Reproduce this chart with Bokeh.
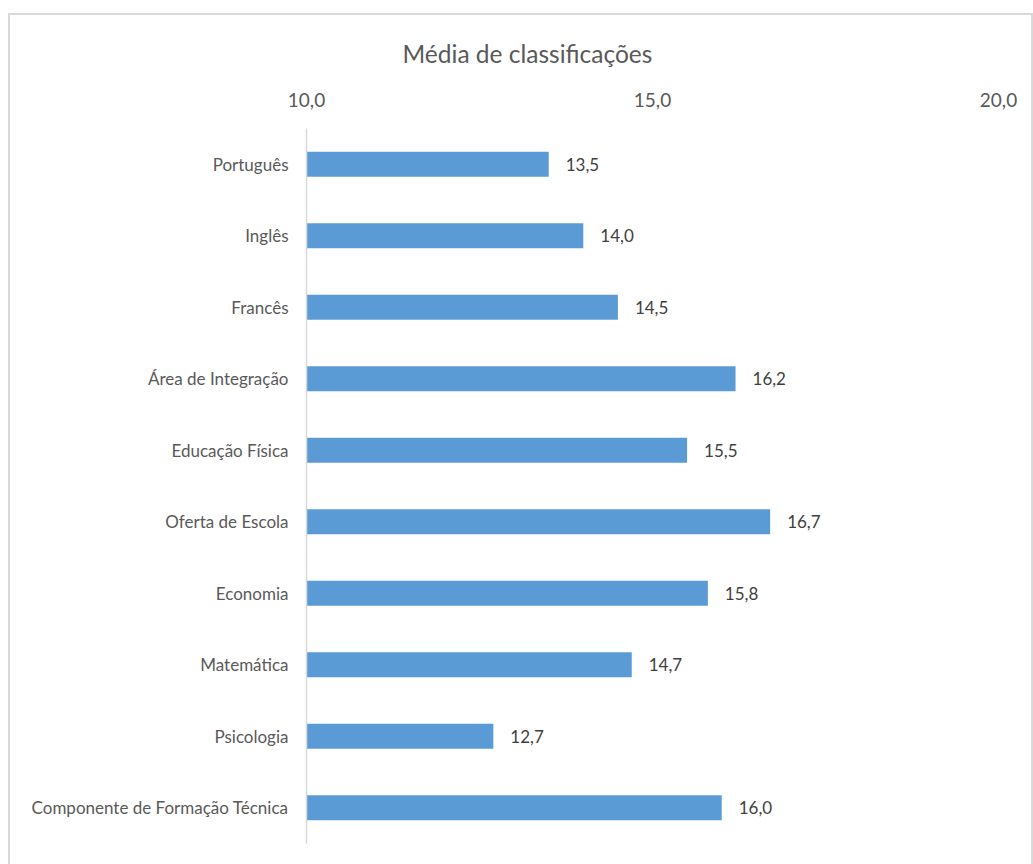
from bokeh.plotting import figure
from bokeh.models import (FactorRange, Range1d, FixedTicker, CustomJSTickFormatter,
                          ColumnDataSource)
from bokeh.core.properties import value
from bokeh.embed import file_html
from bokeh.resources import INLINE

categories = ["Português", "Inglês", "Francês", "Área de Integração", "Educação Física",
              "Oferta de Escola", "Economia", "Matemática", "Psicologia",
              "Componente de Formação Técnica"]
averages = [13.5, 14.0, 14.5, 16.2, 15.5, 16.7, 15.8, 14.7, 12.7, 16.0]
x_ticks = [10, 15, 20]
title_text = "Média de classificações"

FONT = "Lato"

labels = [f"{v:.1f}".replace(".", ",") for v in averages]
src = ColumnDataSource(dict(cat=categories, val=averages, lab=labels,
                            base=[x_ticks[0]] * len(categories)))

p = figure(width=1021, height=861, output_backend="svg", toolbar_location=None,
           y_range=FactorRange(factors=list(reversed(categories))),
           x_range=Range1d(10, 20), x_axis_location="above",
           min_border_left=296, min_border_right=37, min_border_top=112, min_border_bottom=37,
           title=title_text)
p.margin = (13, 0, 0, 8)
p.styles = {"border": "2px solid #d9d9d9", "box-sizing": "content-box"}
p.outline_line_color = None
p.background_fill_color = "white"
p.border_fill_color = "white"
p.xgrid.visible = False
p.ygrid.visible = False

p.title.align = "left"
p.title.offset = 96
p.title.text_font = FONT
p.title.text_font_size = "24.5px"
p.title.text_font_style = "normal"
p.title.text_color = "#595959"
p.title.standoff = 43

p.hbar(y="cat", left="base", right="val", height=0.35, source=src,
       fill_color="#5B9BD5", line_color=None)
p.text(x="val", y="cat", text="lab", source=src, x_offset=17,
       text_baseline="middle", text_align="left", text_font=value(FONT),
       text_font_size="17px", text_color="#404040")

xa = p.xaxis[0]
xa.ticker = FixedTicker(ticks=x_ticks)
xa.formatter = CustomJSTickFormatter(code="return tick.toFixed(1).replace('.', ',');")
xa.axis_line_color = None
xa.major_tick_line_color = None
xa.minor_tick_line_color = None
xa.major_label_text_font = FONT
xa.major_label_text_font_size = "19px"
xa.major_label_text_color = "#595959"
xa.major_label_standoff = 16

ya = p.yaxis[0]
ya.axis_line_color = "#d9d9d9"
ya.axis_line_width = 1.5
ya.major_tick_line_color = None
ya.minor_tick_line_color = None
ya.major_label_text_font = FONT
ya.major_label_text_font_size = "17px"
ya.major_label_text_color = "#595959"
ya.major_label_standoff = 12

open("out.html", "w").write(file_html(p, INLINE))
